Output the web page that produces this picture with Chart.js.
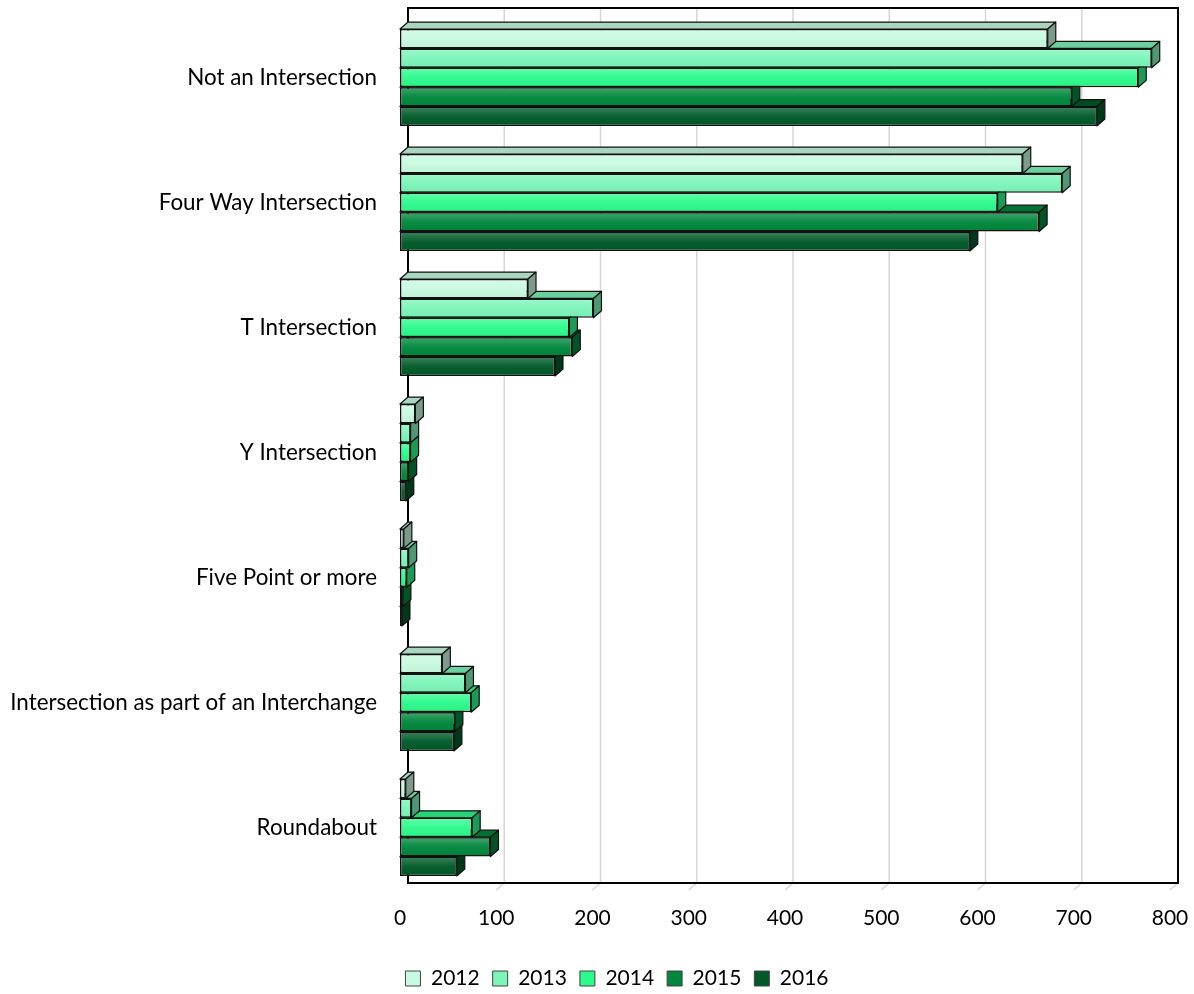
<!DOCTYPE html>
<html>
<head>
<meta charset="utf-8">
<script src="https://cdn.jsdelivr.net/npm/chart.js@4/dist/chart.umd.min.js"></script>
<style>
  html, body { margin: 0; padding: 0; background: #ffffff; }
  #wrap { width: 1194px; height: 994px; }
</style>
</head>
<body>
<div id="wrap"><canvas id="c" width="1194" height="994"></canvas></div>
<script>
const categories = [
  "Not an Intersection",
  "Four Way Intersection",
  "T Intersection",
  "Y Intersection",
  "Five Point or more",
  "Intersection as part of an Interchange",
  "Roundabout"
];
const years = ["2012", "2013", "2014", "2015", "2016"];
const v2012 = [673, 647, 133, 16, 4, 44, 6];
const v2013 = [781, 688, 201, 11, 9, 68, 12];
const v2014 = [767, 621, 176, 11, 7, 74, 75];
const v2015 = [698, 664, 179, 9, 3, 57, 94];
const v2016 = [724, 592, 161, 6, 2, 56, 59];
const xTicks = [0, 100, 200, 300, 400, 500, 600, 700, 800];

const colors = ["#c8fae1", "#7df5b9", "#2dfa8c", "#00873c", "#005a28"];
const seriesValues = [v2012, v2013, v2014, v2015, v2016];

const DX = 8, DY = 7;
const FONT = "Lato";

function shade(hex, f) {
  const n = parseInt(hex.slice(1), 16);
  const r = Math.round(((n >> 16) & 255) * f);
  const g = Math.round(((n >> 8) & 255) * f);
  const b = Math.round((n & 255) * f);
  return `rgb(${r},${g},${b})`;
}

const threeD = {
  id: "threeD",
  afterLayout(chart) {
    const lg = chart.legend;
    if (lg) {
      lg.left += 32; lg.right += 32;
      lg.top += 5; lg.bottom += 5;
    }
  },
  beforeDatasetsDraw(chart) {
    const ctx = chart.ctx;
    const a = chart.chartArea;
    const xs = chart.scales.x;
    ctx.save();
    ctx.strokeStyle = "#d6d6d6";
    ctx.lineWidth = 1.5;
    xTicks.forEach(v => {
      if (v === 0) return;
      const px = xs.getPixelForValue(v) + DX;
      ctx.beginPath();
      ctx.moveTo(px, a.top - DY);
      ctx.lineTo(px, a.bottom - DY);
      ctx.stroke();
      ctx.beginPath();
      ctx.moveTo(px, a.bottom - DY);
      ctx.lineTo(px - DX, a.bottom);
      ctx.stroke();
    });
    ctx.strokeStyle = "#000";
    ctx.lineWidth = 2;
    ctx.beginPath();
    ctx.moveTo(a.left + DX, a.top - DY);
    ctx.lineTo(a.right + DX, a.top - DY);
    ctx.lineTo(a.right + DX, a.bottom - DY);
    ctx.lineTo(a.left + DX, a.bottom - DY);
    ctx.closePath();
    ctx.stroke();
    ctx.restore();
  },
  beforeDatasetDraw(chart, args) {
    const ctx = chart.ctx;
    const meta = args.meta;
    const col = colors[meta.index];
    ctx.save();
    ctx.lineWidth = 1.2;
    ctx.strokeStyle = "#111";
    ctx.lineJoin = "round";
    meta.data.forEach(el => {
      const p = el.getProps(["x", "y", "base", "height"], true);
      const top = p.y - p.height / 2;
      const bot = p.y + p.height / 2;
      const x0 = p.base, x1 = p.x;
      ctx.fillStyle = shade(col, 0.85);
      ctx.beginPath();
      ctx.moveTo(x0, top);
      ctx.lineTo(x1, top);
      ctx.lineTo(x1 + DX, top - DY);
      ctx.lineTo(x0 + DX, top - DY);
      ctx.closePath();
      ctx.fill();
      ctx.stroke();
      ctx.fillStyle = shade(col, 0.62);
      ctx.beginPath();
      ctx.moveTo(x1, top);
      ctx.lineTo(x1 + DX, top - DY);
      ctx.lineTo(x1 + DX, bot - DY);
      ctx.lineTo(x1, bot);
      ctx.closePath();
      ctx.fill();
      ctx.stroke();
    });
    ctx.restore();
  },
  afterDatasetDraw(chart, args) {
    const ctx = chart.ctx;
    ctx.save();
    args.meta.data.forEach(el => {
      const p = el.getProps(["x", "y", "base", "height"], true);
      const top = p.y - p.height / 2 + 1.5;
      const bot = p.y + p.height / 2 - 1.5;
      const w = p.x - p.base - 3;
      if (w <= 0 || bot <= top) return;
      const g = ctx.createLinearGradient(0, top, 0, bot);
      g.addColorStop(0, "rgba(255,255,255,0.22)");
      g.addColorStop(0.5, "rgba(255,255,255,0.04)");
      g.addColorStop(1, "rgba(0,0,0,0.03)");
      ctx.fillStyle = g;
      ctx.fillRect(p.base + 1.5, top, w, bot - top);
    });
    ctx.restore();
  }
};

const datasets = years.map((y, i) => ({
  label: y,
  data: seriesValues[i],
  backgroundColor: colors[i],
  borderColor: "#111",
  borderWidth: 1.5,
  borderSkipped: false,
  categoryPercentage: 0.775,
  barPercentage: 1.0
}));

new Chart(document.getElementById("c"), {
  type: "bar",
  data: { labels: categories, datasets },
  plugins: [threeD],
  options: {
    indexAxis: "y",
    responsive: false,
    animation: false,
    devicePixelRatio: 1,
    layout: { padding: { left: 0, right: 24, top: 15, bottom: 0 } },
    plugins: {
      legend: {
        position: "bottom",
        labels: {
          boxWidth: 15,
          boxHeight: 15,
          padding: 13,
          color: "#222",
          font: { family: FONT, size: 21 },
          generateLabels(chart) {
            return years.map((y, i) => ({
              text: y,
              fillStyle: colors[i],
              strokeStyle: "#444",
              lineWidth: 1,
              datasetIndex: i,
              hidden: false
            }));
          }
        }
      },
      tooltip: { enabled: false }
    },
    scales: {
      x: {
        min: 0,
        max: 800,
        afterBuildTicks(scale) { scale.ticks = xTicks.map(v => ({ value: v })); },
        grid: { display: false, drawTicks: true, tickLength: 11 },
        border: { display: false },
        ticks: {
          color: "#000",
          padding: 5,
          font: { family: FONT, size: 21 }
        },
        afterFit(scale) { scale.height = 60; }
      },
      y: {
        grid: { display: false, drawTicks: true, tickLength: 23 },
        border: { display: false },
        ticks: {
          color: "#000",
          padding: 0,
          font: { family: FONT, size: 22.4 }
        },
        afterFit(scale) { scale.width = 400; }
      }
    }
  }
});
</script>
</body>
</html>
